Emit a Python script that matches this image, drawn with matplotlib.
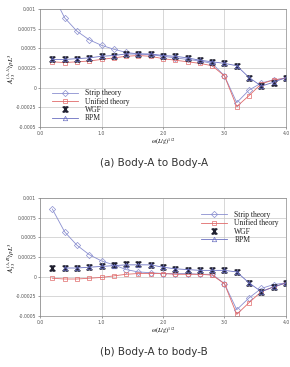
import matplotlib.pyplot as plt
import numpy as np

plt.rcParams['mathtext.fontset'] = 'stix'

# ---- data ----
omega = [0.2, 0.4, 0.6, 0.8, 1.0, 1.2, 1.4, 1.6, 1.8, 2.0,
         2.2, 2.4, 2.6, 2.8, 3.0, 3.2, 3.4, 3.6, 3.8, 4.0]

# (a) Body-A to Body-A
strip_a = [0.00120, 0.00089, 0.00072, 0.00061, 0.00054, 0.00049, 0.00045, 0.00043, 0.00042, 0.00040,
           0.00038, 0.00036, 0.00034, 0.00031, 0.00015, -0.00019, -0.00003, 0.00006, 0.00010, 0.00012]
unified_a = [0.00033, 0.00032, 0.00033, 0.00034, 0.00036, 0.00038, 0.00040, 0.00041, 0.00040, 0.00037,
             0.00035, 0.00033, 0.00031, 0.00028, 0.00015, -0.00024, -0.00010, 0.00005, 0.00010, 0.00012]
wgf_a = [0.00036, 0.00036, 0.00037, 0.00038, 0.00040, 0.00041, 0.00043, 0.00043, 0.00043, 0.00041,
         0.00040, 0.00038, 0.00035, 0.00033, 0.00031, 0.00028, 0.00013, 0.00002, 0.00006, 0.00013]
rpm_a = [0.00036, 0.00036, 0.00037, 0.00038, 0.00040, 0.00041, 0.00043, 0.00043, 0.00043, 0.00041,
         0.00040, 0.00038, 0.00035, 0.00033, 0.00031, 0.00028, 0.00013, 0.00002, 0.00007, 0.00013]

# (b) Body-A to body-B
strip_b = [0.00086, 0.00057, 0.00040, 0.00028, 0.00020, 0.00015, 0.00009, 0.00006, 0.00005, 0.00004,
           0.00004, 0.00004, 0.00003, 0.00003, -0.00009, -0.00042, -0.00027, -0.00015, -0.00010, -0.00008]
unified_b = [-0.00002, -0.00003, -0.00003, -0.00002, -0.00001, 0.00001, 0.00003, 0.00004, 0.00004, 0.00004,
             0.00003, 0.00003, 0.00003, 0.00002, -0.00009, -0.00048, -0.00033, -0.00019, -0.00013, -0.00008]
wgf_b = [0.00011, 0.00011, 0.00011, 0.00012, 0.00013, 0.00015, 0.00016, 0.00016, 0.00015, 0.00012,
         0.00010, 0.00009, 0.00008, 0.00008, 0.00008, 0.00006, -0.00008, -0.00020, -0.00013, -0.00008]
rpm_b = [0.00011, 0.00011, 0.00012, 0.00013, 0.00014, 0.00015, 0.00015, 0.00015, 0.00012,
         0.00010, 0.00009, 0.00008, 0.00008, 0.00008, 0.00006, -0.00008, -0.00019, -0.00013, -0.00008]
omega_rpm_b = omega[1:]

yticks = [0.001, 0.00075, 0.0005, 0.00025, 0, -0.00025, -0.0005]
ytick_labels = ['0.001', '0.00075', '0.0005', '0.00025', '0', '-0.00025', '-0.0005']
xticks = [0.0, 1.0, 2.0, 3.0, 4.0]
xtick_labels = ['0.0', '1.0', '2.0', '3.0', '4.0']

c_strip = '#8a8fd0'
c_unif = '#e06a6a'
c_rpm = '#6a6fc0'

fig = plt.figure(figsize=(2.9, 3.67), dpi=100)
ax_a = fig.add_axes([0.138, 0.654, 0.848, 0.321])
ax_b = fig.add_axes([0.138, 0.139, 0.848, 0.3215])


def draw_panel(ax, strip, unified, wgf, x_rpm, rpm, sup, legend_loc, legend_anchor):
    ax.plot(omega, strip, color=c_strip, lw=0.6, marker='D', ms=3.2, mfc='none',
            mec=c_strip, mew=0.5, label='Strip theory')
    ax.plot(omega, unified, color=c_unif, lw=0.6, marker='s', ms=3.2, mfc='none',
            mec=c_unif, mew=0.5, label='Unified theory')
    ax.plot(omega, wgf, ls='none', marker='$\\mathrm{X}$', ms=3.6, color='#202030',
            label='WGF')
    ax.plot(x_rpm, rpm, color=c_rpm, lw=0.6, marker='^', ms=3.2, mfc='none',
            mec=c_rpm, mew=0.5, label='RPM')
    ax.set_xlim(0, 4.0)
    ax.set_ylim(-0.0005, 0.001)
    ax.set_xticks(xticks)
    ax.set_xticklabels(xtick_labels)
    ax.set_yticks(yticks)
    ax.set_yticklabels(ytick_labels)
    ax.tick_params(labelsize=3.3, colors='#555555', length=1.5, width=0.4, pad=1.2)
    ax.grid(True, color='#c8c8c8', lw=0.5)
    for s in ax.spines.values():
        s.set_color('#888888')
        s.set_linewidth(0.5)
    ax.set_ylabel('$A_{33}^{(%s)}/\\rho L^3$' % sup, fontsize=5)
    ax.yaxis.set_label_coords(-0.088, 0.5)
    ax.set_xlabel('$\\omega(L/g)^{1/2}$', fontsize=4.5, labelpad=0.5)
    leg = ax.legend(loc=legend_loc, bbox_to_anchor=legend_anchor, frameon=False,
                    prop={'family': 'Liberation Serif', 'size': 5.5},
                    handlelength=3.4, handletextpad=0.9, labelspacing=0.05,
                    borderaxespad=0.2)
    for t in leg.get_texts():
        t.set_color('#222222')


draw_panel(ax_a, strip_a, unified_a, wgf_a, omega, rpm_a, 'A,A', 'lower left', (0.03, 0.0))
draw_panel(ax_b, strip_b, unified_b, wgf_b, omega_rpm_b, rpm_b, 'A,B', 'upper right', (0.99, 0.93))

fig.text(0.53, 1 - 163 / 367, '(a) Body-A to Body-A', ha='center', va='center',
         fontsize=7.5, color='#333333')
fig.text(0.53, 1 - 352 / 367, '(b) Body-A to body-B', ha='center', va='center',
         fontsize=7.5, color='#333333')

fig.savefig('out.png', dpi=100)
